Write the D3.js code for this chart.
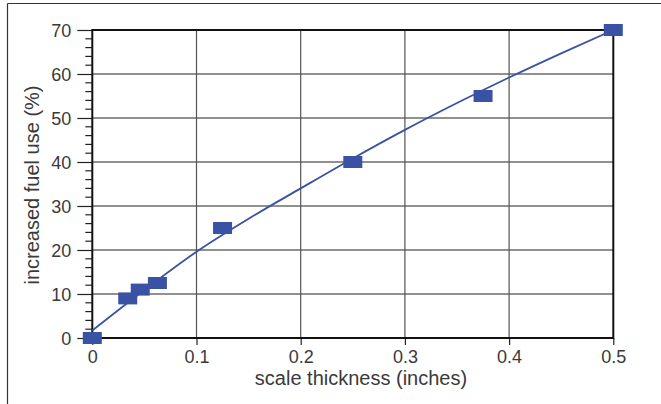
<!DOCTYPE html>
<html><head><meta charset="utf-8">
<script src="https://cdn.jsdelivr.net/npm/d3@7"></script>
<style>
html,body{margin:0;padding:0;background:#fff;}
svg{display:block;}
text{font-family:"Liberation Sans",Arial,sans-serif;font-weight:normal;fill:#3a3a3a;}
</style></head>
<body>
<script>
// Data
const thickness = [0, 0.034, 0.046, 0.0625, 0.125, 0.25, 0.375, 0.5];
const fuelUse   = [0, 9, 11, 12.5, 25, 40, 55, 70];
const fitX = [0, 0.05, 0.1, 0.15, 0.2, 0.25, 0.3, 0.35, 0.4, 0.45, 0.5];
const fitY = [1.7, 10.9, 19.6, 27.1, 34.0, 40.8, 47.3, 53.4, 59.2, 64.7, 70];
const xTicks = [0, 0.1, 0.2, 0.3, 0.4, 0.5];
const yTicks = [0, 10, 20, 30, 40, 50, 60, 70];
const xTitle = "scale thickness (inches)";
const yTitle = "increased fuel use (%)";

const W = 661, H = 404;
const svg = d3.select("body").append("svg").attr("width", W).attr("height", H);

const x = d3.scaleLinear().domain([0, 0.5]).range([92.3, 613.3]);
const y = d3.scaleLinear().domain([0, 70]).range([338, 30]);
const blue = "#3a52a4";
const font = '"Liberation Sans", Arial, sans-serif';

// outer frame (top & left)
svg.append("line").attr("x1", 7.5).attr("x2", W).attr("y1", 3.5).attr("y2", 3.5).attr("stroke", "#333").attr("stroke-width", 1.2);
svg.append("line").attr("x1", 7.5).attr("x2", 7.5).attr("y1", 3.5).attr("y2", H).attr("stroke", "#333").attr("stroke-width", 1.2);

// gridlines
svg.append("g").selectAll("line").data(yTicks.slice(1, -1)).join("line")
  .attr("x1", x(0)).attr("x2", x(0.5)).attr("y1", d => y(d)).attr("y2", d => y(d))
  .attr("stroke", "#222").attr("stroke-width", 1);
svg.append("g").selectAll("line").data(xTicks.slice(1, -1)).join("line")
  .attr("y1", y(0)).attr("y2", y(70)).attr("x1", d => x(d)).attr("x2", d => x(d))
  .attr("stroke", "#555").attr("stroke-width", 1.2);

// y axis
const yMinor = d3.range(0, 70.01, 2).filter(v => v % 10 !== 0);
const yAx = svg.append("g").attr("transform", `translate(${x(0)},0)`)
  .call(d3.axisLeft(y).tickValues(yTicks).tickSize(15).tickPadding(6).tickSizeOuter(0));
yAx.select(".domain").remove();
yAx.selectAll(".tick line").attr("stroke", "#222").attr("stroke-width", 1.2);
yAx.selectAll(".tick text").attr("font-size", 18).attr("fill", "#3a3a3a").attr("dy", "0.36em")
  .attr("font-family", font);
svg.append("g").selectAll("line").data(yMinor).join("line")
  .attr("x1", x(0) - 7).attr("x2", x(0)).attr("y1", d => y(d)).attr("y2", d => y(d))
  .attr("stroke", "#222").attr("stroke-width", 1.2);

// x axis
const xAx = svg.append("g").attr("transform", `translate(0,${y(0)})`)
  .call(d3.axisBottom(x).tickValues(xTicks).tickSize(7).tickPadding(5).tickSizeOuter(0).tickFormat(d3.format("")));
xAx.select(".domain").remove();
xAx.selectAll(".tick line").attr("stroke", "#222").attr("stroke-width", 1.2);
xAx.selectAll(".tick text").attr("font-size", 18).attr("fill", "#3a3a3a")
  .attr("font-family", font);

// plot frame
svg.append("rect").attr("x", x(0)).attr("y", y(70)).attr("width", x(0.5) - x(0)).attr("height", y(0) - y(70))
  .attr("fill", "none").attr("stroke", "#111").attr("stroke-width", 2);

// fitted curve
const fit = fitX.map((v, i) => [v, fitY[i]]);
svg.append("path").datum(fit)
  .attr("d", d3.line().x(d => x(d[0])).y(d => y(d[1])).curve(d3.curveMonotoneX))
  .attr("fill", "none").attr("stroke", blue).attr("stroke-width", 1.8);

// markers
const pts = thickness.map((v, i) => [v, fuelUse[i]]);
svg.append("g").selectAll("rect").data(pts).join("rect")
  .attr("x", d => x(d[0]) - 9.5).attr("y", d => y(d[1]) - 6)
  .attr("width", 19).attr("height", 12).attr("fill", blue);

// titles
svg.append("text").attr("x", 361).attr("y", 385).attr("text-anchor", "middle")
  .attr("font-size", 20).text(xTitle);
svg.append("text").attr("transform", `translate(39,185) rotate(-90)`).attr("text-anchor", "middle")
  .attr("font-size", 20).text(yTitle);
</script>
</body></html>
